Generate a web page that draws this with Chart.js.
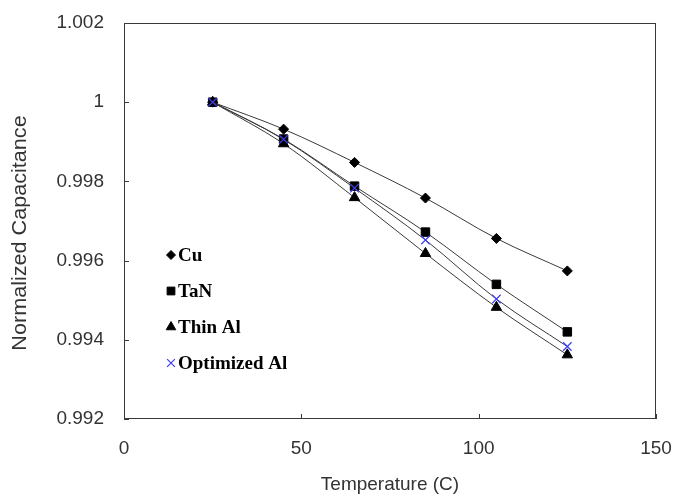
<!DOCTYPE html>
<html>
<head>
<meta charset="utf-8">
<script src="https://cdn.jsdelivr.net/npm/chart.js@4/dist/chart.umd.min.js"></script>
<style>
  html, body { margin: 0; padding: 0; background: #fff; }
  #wrap { width: 673px; height: 495px; }
</style>
</head>
<body>
<div id="wrap"><canvas id="chart" width="673" height="495"></canvas></div>
<script>
// temperatures (C) and normalized capacitance
const temps = [25, 45, 65, 85, 105, 125];
const cu      = [1.0, 0.99932, 0.99848, 0.99758, 0.99656, 0.99574];
const tan     = [1.0, 0.99907, 0.99788, 0.99672, 0.99540, 0.99420];
const thinAl  = [1.0, 0.99895, 0.99759, 0.99618, 0.99482, 0.99362];
const optAl   = [1.0, 0.99906, 0.99783, 0.99652, 0.99503, 0.99383];

const xTicks = [0, 50, 100, 150];
const yTicks = [0.992, 0.994, 0.996, 0.998, 1, 1.002];
const yTickLabels = ['0.992', '0.994', '0.996', '0.998', '1', '1.002'];

const SANS = '"Liberation Sans", Arial, sans-serif';
const SERIF = '"Liberation Serif", "Times New Roman", serif';
const LINE = '#3a3a3a';
const BLUE = '#3d3df5';

function pts(vals) {
  return temps.map((t, i) => ({ x: t, y: vals[i] }));
}

function series(label, vals, style, radius, color, order) {
  return {
    label: label,
    data: pts(vals),
    showLine: true,
    borderColor: LINE,
    borderWidth: 1,
    cubicInterpolationMode: 'monotone',
    pointStyle: style,
    pointRadius: radius,
    pointHoverRadius: radius,
    pointBackgroundColor: color,
    pointBorderColor: color,
    pointBorderWidth: style === 'crossRot' ? 1.2 : 1,
    order: order
  };
}

const datasets = [
  series('Cu', cu, 'rectRot', 5, '#000', 4),
  series('TaN', tan, 'rect', 6, '#000', 3),
  series('Thin Al', thinAl, 'triangle', 6, '#000', 2),
  series('Optimized Al', optAl, 'crossRot', 6, BLUE, 1)
];

// no extra room for overhanging tick labels, the layout padding sets the plot box
function noPad(s) {
  s.paddingLeft = s.paddingRight = s.paddingTop = s.paddingBottom = 0;
}

// box round the plot, inward tick marks, legend and y title
const framePlugin = {
  id: 'frame',
  afterDraw(chart) {
    const ctx = chart.ctx;
    const a = chart.chartArea;
    const xs = chart.scales.x, ys = chart.scales.y;
    ctx.save();
    ctx.strokeStyle = LINE;
    ctx.lineWidth = 1;
    ctx.strokeRect(a.left + 0.5, a.top + 0.5, a.right - a.left - 1, a.bottom - a.top - 1);
    ctx.beginPath();
    xTicks.forEach(v => {
      const px = Math.round(xs.getPixelForValue(v)) + 0.5;
      ctx.moveTo(px, a.bottom);
      ctx.lineTo(px, a.bottom - 5);
    });
    yTicks.forEach(v => {
      const py = Math.round(ys.getPixelForValue(v)) + 0.5;
      ctx.moveTo(a.left, py);
      ctx.lineTo(a.left + 5, py);
    });
    ctx.stroke();

    // legend, inside the plot on the left
    const lx = 171, ly = 255, step = 36;
    ctx.font = 'bold 19px ' + SERIF;
    ctx.textBaseline = 'middle';
    ctx.textAlign = 'left';
    datasets.forEach((d, i) => {
      const y = ly + i * step;
      ctx.fillStyle = d.pointBackgroundColor;
      ctx.strokeStyle = d.pointBorderColor;
      ctx.lineWidth = d.pointBorderWidth;
      Chart.helpers.drawPoint(ctx, {
        pointStyle: d.pointStyle,
        radius: d.pointStyle === 'rect' ? 5.5 : d.pointRadius - 0.5,
        rotation: 0,
        borderWidth: d.pointBorderWidth
      }, lx, y);
      ctx.fillStyle = '#000';
      ctx.fillText(d.label, lx + 7, y + 1);
    });

    // y axis title
    ctx.translate(20, 233);
    ctx.rotate(-Math.PI / 2);
    ctx.scale(1.08, 1);
    ctx.font = '20px ' + SANS;
    ctx.fillStyle = '#333';
    ctx.textAlign = 'center';
    ctx.fillText('Normalized Capacitance', 0, 0);
    ctx.restore();
  }
};

new Chart(document.getElementById('chart'), {
  type: 'scatter',
  data: { datasets: datasets },
  plugins: [framePlugin],
  options: {
    responsive: false,
    animation: false,
    layout: { padding: { top: 23, right: 17, left: 0, bottom: 0 } },
    plugins: {
      legend: { display: false },
      tooltip: { enabled: false }
    },
    scales: {
      x: {
        type: 'linear',
        min: 0,
        max: 150,
        afterBuildTicks: s => { s.ticks = xTicks.map(v => ({ value: v })); },
        afterFit: s => { s.height = 76; noPad(s); },
        grid: { display: false, drawTicks: false },
        border: { display: false },
        ticks: { color: '#333', padding: 18, font: { family: SANS, size: 19 } },
        title: {
          display: true,
          text: 'Temperature (C)',
          color: '#333',
          font: { family: SANS, size: 19 },
          padding: { top: 0, bottom: -1 }
        }
      },
      y: {
        type: 'linear',
        min: 0.992,
        max: 1.002,
        afterBuildTicks: s => { s.ticks = yTicks.map(v => ({ value: v })); },
        afterFit: s => { s.width = 124; noPad(s); },
        grid: { display: false, drawTicks: false },
        border: { display: false },
        ticks: {
          color: '#333',
          padding: 20,
          font: { family: SANS, size: 19 },
          callback: v => {
            const i = yTicks.findIndex(t => Math.abs(t - v) < 1e-9);
            return i >= 0 ? yTickLabels[i] : '';
          }
        }
      }
    }
  }
});
</script>
</body>
</html>
